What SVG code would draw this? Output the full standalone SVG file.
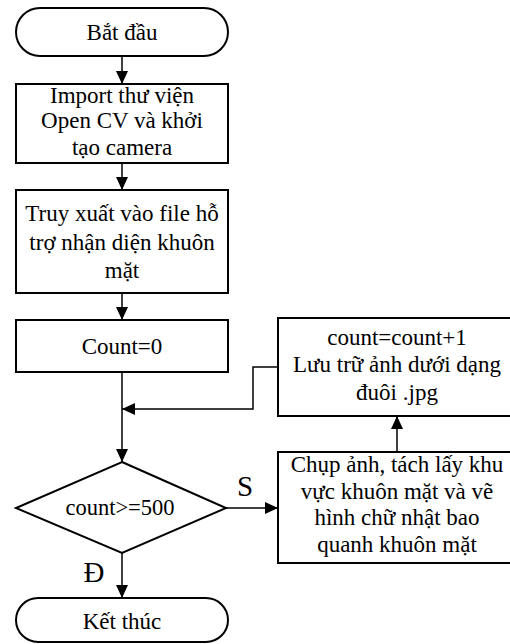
<svg xmlns="http://www.w3.org/2000/svg" width="510" height="644" viewBox="0 0 510 644" font-family="'Liberation Serif', 'Times New Roman', serif">
<style>
.shape{fill:#fff;stroke:#000;stroke-width:2}
.conn{fill:none;stroke:#000;stroke-width:1.5}
.t{font-family:'Liberation Serif','Times New Roman',serif;font-size:23px;fill:#000;text-anchor:middle}
.lbl{font-size:29px}
</style>
<defs>
<marker id="arr" markerUnits="userSpaceOnUse" markerWidth="14" markerHeight="14" viewBox="0 0 14 14" refX="13" refY="7" orient="auto">
<path d="M0,1 L13,7 L0,13 Z" fill="#000"/>
</marker>
</defs>
<rect x="0" y="0" width="510" height="644" fill="#fff"/>
<g id="connectors">
<line class="conn" x1="122" y1="56" x2="122" y2="84" marker-end="url(#arr)"/>
<line class="conn" x1="122" y1="163" x2="122" y2="190" marker-end="url(#arr)"/>
<line class="conn" x1="122" y1="293" x2="122" y2="320" marker-end="url(#arr)"/>
<line class="conn" x1="122" y1="372" x2="122" y2="462" marker-end="url(#arr)"/>
<path class="conn" d="M278,367 H253 V409 H122" marker-end="url(#arr)"/>
<line class="conn" x1="226" y1="508" x2="278" y2="508" marker-end="url(#arr)"/>
<line class="conn" x1="397" y1="452" x2="397" y2="416" marker-end="url(#arr)"/>
<line class="conn" x1="122" y1="553" x2="122" y2="598" marker-end="url(#arr)"/>
<text class="t lbl" x="245" y="496">S</text>
<text class="t lbl" x="94" y="582">Đ</text>
</g>
<g id="start">
<rect class="shape" x="16" y="8" width="212" height="48" rx="24"/>
<text class="t" x="122" y="40">Bắt đầu</text>
</g>
<g id="import">
<rect class="shape" x="16" y="84" width="212" height="79"/>
<text class="t" x="122" y="103">Import thư viện</text>
<text class="t" x="122" y="128">Open CV và khởi</text>
<text class="t" x="122" y="155">tạo camera</text>
</g>
<g id="load">
<rect class="shape" x="16" y="190" width="212" height="103"/>
<text class="t" x="122" y="221">Truy xuất vào file hỗ</text>
<text class="t" x="122" y="250">trợ nhận diện khuôn</text>
<text class="t" x="122" y="278">mặt</text>
</g>
<g id="init">
<rect class="shape" x="16" y="320" width="212" height="52"/>
<text class="t" x="122" y="354">Count=0</text>
</g>
<g id="decision">
<polygon class="shape" points="122,462 226,508 122,553 16,508"/>
<text class="t" x="120" y="515" style="font-size:22.5px">count&gt;=500</text>
</g>
<g id="capture">
<rect class="shape" x="278" y="452" width="240" height="111"/>
<text class="t" x="397" y="472">Chụp ảnh, tách lấy khu</text>
<text class="t" x="397" y="499">vực khuôn mặt và vẽ</text>
<text class="t" x="397" y="525">hình chữ nhật bao</text>
<text class="t" x="397" y="552">quanh khuôn mặt</text>
</g>
<g id="save">
<rect class="shape" x="278" y="318" width="240" height="98"/>
<text class="t" x="397" y="345">count=count+1</text>
<text class="t" x="397" y="372">Lưu trữ ảnh dưới dạng</text>
<text class="t" x="397" y="400">đuôi .jpg</text>
</g>
<g id="end">
<rect class="shape" x="16" y="598" width="212" height="44" rx="22"/>
<text class="t" x="122" y="629">Kết thúc</text>
</g>
</svg>
